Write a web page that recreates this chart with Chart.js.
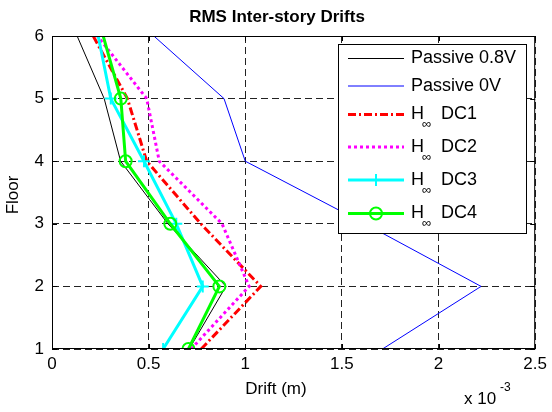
<!DOCTYPE html>
<html>
<head>
<meta charset="utf-8">
<script src="https://cdn.jsdelivr.net/npm/chart.js@4.4.1/dist/chart.umd.min.js"></script>
<style>
  body { margin: 0; background: #fff; }
  #wrap { width: 552px; height: 412px; }
</style>
</head>
<body>
<div id="wrap"><canvas id="myChart" width="552" height="412"></canvas></div>
<script>
// drift values are in units of 1e-3 m
var floors = [1, 2, 3, 4, 5, 6];
var passive08V = [0.71, 0.90, 0.60, 0.355, 0.27, 0.13];
var passive0V = [1.71, 2.22, 1.62, 1.00, 0.89, 0.527];
var hinfDC1 = [0.772, 1.08, 0.77, 0.49, 0.39, 0.213];
var hinfDC2 = [0.72, 1.02, 0.88, 0.555, 0.49, 0.235];
var hinfDC3 = [0.575, 0.78, 0.643, 0.476, 0.304, 0.239];
var hinfDC4 = [0.706, 0.866, 0.612, 0.381, 0.356, 0.265];
var xTicks = [0, 0.5, 1, 1.5, 2, 2.5];
var yTicks = [1, 2, 3, 4, 5, 6];

var FONT = '"Liberation Sans", Arial, sans-serif';

function pts(vals) {
  return vals.map(function (v, i) { return { x: v, y: floors[i] }; });
}

// markers are not shown on the top floor in the original
function markerRadius(ctx) {
  return ctx.raw && ctx.raw.y === 6 ? 0 : 6;
}

// legend + frame, drawn matlab style
const matlabPlugin = {
  id: 'matlab',
  afterDatasetsDraw(chart) {
    const ctx = chart.ctx;
    const a = chart.chartArea;
    const xs = chart.scales.x, ys = chart.scales.y;
    ctx.save();

    // box
    ctx.strokeStyle = '#000';
    ctx.lineWidth = 1;
    ctx.setLineDash([]);
    ctx.strokeRect(a.left + 0.5, a.top + 0.5, a.right - a.left - 1, a.bottom - a.top - 1);

    // inward ticks on all sides
    ctx.beginPath();
    xTicks.forEach(function (t) {
      const px = Math.round(xs.getPixelForValue(t)) + 0.5;
      ctx.moveTo(px, a.bottom); ctx.lineTo(px, a.bottom - 5);
      ctx.moveTo(px, a.top); ctx.lineTo(px, a.top + 5);
    });
    yTicks.forEach(function (t) {
      const py = Math.round(ys.getPixelForValue(t)) + 0.5;
      ctx.moveTo(a.left, py); ctx.lineTo(a.left + 5, py);
      ctx.moveTo(a.right, py); ctx.lineTo(a.right - 5, py);
    });
    ctx.stroke();

    // legend
    const lx = 338, ly = 44, lw = 188, lh = 189;
    ctx.fillStyle = '#fff';
    ctx.fillRect(lx, ly, lw, lh);
    ctx.strokeRect(lx + 0.5, ly + 0.5, lw, lh);
    const rows = [58.5, 86, 114.5, 147, 180, 213.5];
    chart.data.datasets.forEach(function (ds, i) {
      const y = rows[i];
      ctx.strokeStyle = ds.borderColor;
      ctx.lineWidth = ds.borderWidth;
      ctx.setLineDash(ds.borderDash || []);
      ctx.beginPath();
      ctx.moveTo(348, y); ctx.lineTo(404, y);
      ctx.stroke();
      ctx.setLineDash([]);
      if (ds.pointStyle) {
        ctx.lineWidth = ds.pointBorderWidth;
        ctx.strokeStyle = ds.pointBorderColor;
        ctx.beginPath();
        if (ds.pointStyle === 'cross') {
          ctx.moveTo(376, y - 6); ctx.lineTo(376, y + 6);
          ctx.moveTo(370, y); ctx.lineTo(382, y);
        } else {
          ctx.arc(376, y, 6, 0, Math.PI * 2);
        }
        ctx.stroke();
      }
      ctx.fillStyle = '#000';
      ctx.textBaseline = 'middle';
      ctx.textAlign = 'left';
      ctx.font = '18px ' + FONT;
      if (ds.label.indexOf('H') === 0) {
        ctx.fillText('H', 411, y);
        ctx.font = '13px ' + FONT;
        ctx.fillText('\u221e', 422, y + 10);
        ctx.font = '18px ' + FONT;
        ctx.fillText(ds.label.slice(3), 441, y);
      } else {
        ctx.fillText(ds.label, 411, y);
      }
    });

    // titles
    ctx.fillStyle = '#000';
    ctx.textAlign = 'center';
    ctx.textBaseline = 'middle';
    ctx.font = 'bold 17px ' + FONT;
    ctx.fillText('RMS Inter-story Drifts', 277, 17);
    ctx.font = '17px ' + FONT;
    ctx.fillText('Drift (m)', 276, 389);
    ctx.save();
    ctx.translate(13, 195);
    ctx.rotate(-Math.PI / 2);
    ctx.fillText('Floor', 0, 0);
    ctx.restore();
    ctx.textAlign = 'left';
    ctx.fillText('x 10', 464, 399);
    ctx.font = '12px ' + FONT;
    ctx.fillText('-3', 500, 388);
    ctx.restore();
  }
};

const config = {
  type: 'scatter',
  data: {
    datasets: [{
      label: 'Passive 0.8V',
      data: pts(passive08V),
      showLine: true,
      borderColor: '#000000',
      borderWidth: 1,
      pointRadius: 0,
      order: 6
    }, {
      label: 'Passive 0V',
      data: pts(passive0V),
      showLine: true,
      borderColor: '#0000ff',
      borderWidth: 1,
      pointRadius: 0,
      order: 5
    }, {
      label: 'H\u221e DC1',
      data: pts(hinfDC1),
      showLine: true,
      borderColor: '#ff0000',
      borderWidth: 3,
      borderDash: [8, 3, 2, 3],
      pointRadius: 0,
      order: 4
    }, {
      label: 'H\u221e DC2',
      data: pts(hinfDC2),
      showLine: true,
      borderColor: '#ff00ff',
      borderWidth: 3,
      borderDash: [3, 3],
      pointRadius: 0,
      order: 3
    }, {
      label: 'H\u221e DC3',
      data: pts(hinfDC3),
      showLine: true,
      borderColor: '#00ffff',
      borderWidth: 3,
      pointStyle: 'cross',
      pointRadius: markerRadius,
      pointBorderWidth: 2,
      pointBorderColor: '#00ffff',
      order: 2
    }, {
      label: 'H\u221e DC4',
      data: pts(hinfDC4),
      showLine: true,
      borderColor: '#00ff00',
      borderWidth: 3,
      pointStyle: 'circle',
      pointRadius: markerRadius,
      pointBorderWidth: 2,
      pointBorderColor: '#00ff00',
      pointBackgroundColor: 'rgba(0,0,0,0)',
      order: 1
    }]
  },
  options: {
    responsive: false,
    animation: false,
    events: [],
    layout: { padding: { top: 36, right: 15, bottom: 0, left: 0 } },
    plugins: {
      legend: { display: false },
      title: { display: false },
      tooltip: { enabled: false }
    },
    scales: {
      x: {
        type: 'linear',
        min: 0,
        max: 2.5,
        afterFit: function (s) { s.height = 63; },
        afterBuildTicks: function (s) { s.ticks = xTicks.map(function (v) { return { value: v }; }); },
        ticks: {
          color: '#000',
          font: { family: FONT, size: 17 },
          padding: 5,
          maxRotation: 0,
          callback: function (v) { return String(v); }
        },
        grid: { color: '#222', lineWidth: 1, drawTicks: false },
        border: { display: false, dash: [7, 4] }
      },
      y: {
        type: 'linear',
        min: 1,
        max: 6,
        afterFit: function (s) { s.width = 52; },
        afterBuildTicks: function (s) { s.ticks = yTicks.map(function (v) { return { value: v }; }); },
        ticks: {
          color: '#000',
          font: { family: FONT, size: 17 },
          padding: 8
        },
        grid: { color: '#222', lineWidth: 1, drawTicks: false },
        border: { display: false, dash: [7, 4] }
      }
    }
  },
  plugins: [matlabPlugin]
};

var ctx = document.getElementById('myChart');
var myChart = new Chart(ctx, config);
</script>
</body>
</html>
